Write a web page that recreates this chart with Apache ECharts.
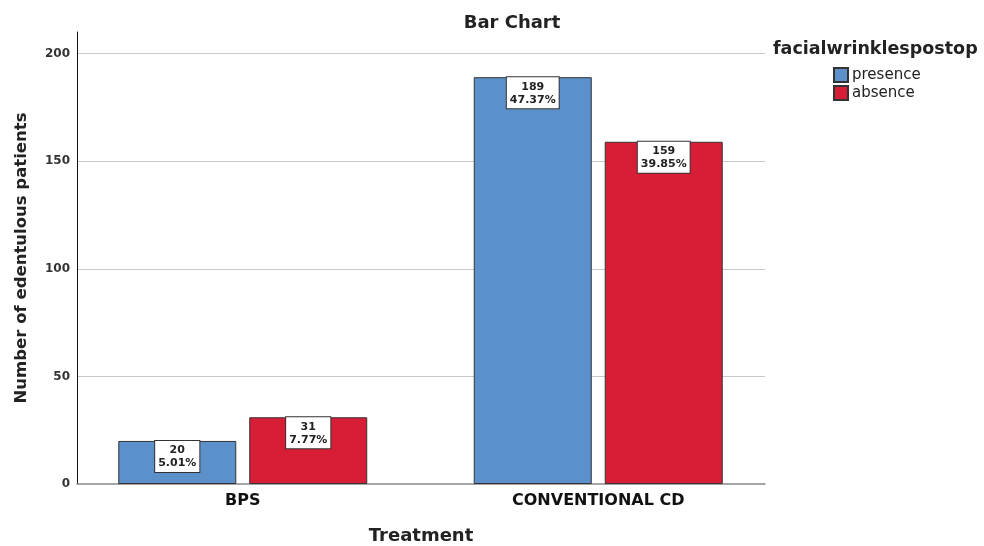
<!DOCTYPE html>
<html>
<head>
<meta charset="utf-8">
<script src="https://cdn.jsdelivr.net/npm/echarts@6/dist/echarts.min.js"></script>
<style>
  html, body { margin: 0; padding: 0; background: #fff; }
  #chart { width: 984px; height: 546px; }
</style>
</head>
<body>
<div id="chart"></div>
<script>
// data
const categories = ['BPS', 'CONVENTIONAL CD']
const presence = [20, 189]
const absence = [31, 159]
const seriesNames = ['presence', 'absence']
const yTicks = [0, 50, 100, 150, 200]

const total = presence.concat(absence).reduce((a, b) => a + b, 0)
const font = '"DejaVu Sans", "Liberation Sans", Arial, sans-serif'

const chart = echarts.init(document.getElementById('chart'))

const labelStyle = {
  show: true,
  position: 'insideTop',
  distance: 0,
  formatter: p => p.value + '\n' + (p.value / total * 100).toFixed(2) + '%',
  backgroundColor: '#fff',
  borderColor: '#333',
  borderWidth: 1,
  padding: [3, 3, 2, 3],
  color: '#222',
  fontFamily: font,
  fontWeight: 'bold',
  fontSize: 11,
  lineHeight: 13,
  align: 'center'
}

const option = {
  animation: false,
  backgroundColor: '#fff',
  textStyle: { fontFamily: font },
  title: [
    {
      text: 'Bar Chart',
      left: 507,
      top: 9,
      textAlign: 'center',
      textStyle: { fontSize: 18, fontWeight: 'bold', color: '#222', fontFamily: font }
    },
    {
      text: 'facialwrinklespostop',
      left: 773,
      top: 40,
      padding: 0,
      textStyle: { fontSize: 17.5, fontWeight: 'bold', color: '#222', fontFamily: font }
    }
  ],
  legend: {
    data: seriesNames,
    orient: 'vertical',
    left: 828,
    top: 62,
    itemWidth: 14,
    itemHeight: 14,
    itemGap: 2,
    icon: 'rect',
    textStyle: { fontSize: 15, color: '#222', fontFamily: font, padding: [0, 0, 0, -1] }
  },
  grid: [
    { left: 77, right: 219, top: 32, bottom: 62, outerBoundsMode: 'none' },
    { left: 65, right: 208, top: 32, bottom: 62, outerBoundsMode: 'none' }
  ],
  xAxis: [
    {
      type: 'category',
      gridIndex: 0,
      data: categories,
      name: 'Treatment',
      nameLocation: 'middle',
      nameGap: 43,
      nameTextStyle: { fontSize: 18, fontWeight: 'bold', color: '#222', fontFamily: font },
      axisLine: { lineStyle: { color: '#888', width: 1.5 } },
      axisTick: { show: false },
      axisLabel: { show: false }
    },
    {
      type: 'category',
      gridIndex: 1,
      data: categories,
      axisLine: { show: false },
      axisTick: { show: false },
      axisLabel: {
        margin: 9,
        fontSize: 16,
        fontWeight: 'bold',
        color: '#111',
        fontFamily: font
      }
    }
  ],
  yAxis: [
    {
      type: 'value',
      gridIndex: 0,
      min: 0,
      max: 210,
      interval: 50,
      name: 'Number of edentulous patients',
      nameLocation: 'middle',
      nameGap: 47,
      nameTextStyle: { fontSize: 16.5, fontWeight: 'bold', color: '#222', fontFamily: font },
      axisLine: { show: true, lineStyle: { color: '#111', width: 1 } },
      axisTick: { show: false },
      axisLabel: {
        showMaxLabel: false,
        margin: 7,
        fontSize: 12,
        fontWeight: 'bold',
        color: '#333',
        fontFamily: font,
        formatter: v => yTicks.includes(v) ? String(v) : ''
      },
      splitLine: { show: true, showMinLine: false, showMaxLine: false, lineStyle: { color: '#c8c8c8', width: 1 } }
    },
    {
      type: 'value',
      gridIndex: 1,
      min: 0,
      max: 210,
      show: false,
      splitLine: { show: false }
    }
  ],
  series: [
    {
      name: 'presence',
      type: 'bar',
      xAxisIndex: 1,
      yAxisIndex: 1,
      data: presence,
      barWidth: 118,
      barGap: '11%',
      itemStyle: { color: '#5b90ca', borderColor: '#333', borderWidth: 1 },
      label: labelStyle
    },
    {
      name: 'absence',
      type: 'bar',
      xAxisIndex: 1,
      yAxisIndex: 1,
      data: absence,
      barWidth: 118,
      barGap: '11%',
      itemStyle: { color: '#d81e37', borderColor: '#333', borderWidth: 1 },
      label: labelStyle
    }
  ]
}

chart.setOption(option)
</script>
</body>
</html>
